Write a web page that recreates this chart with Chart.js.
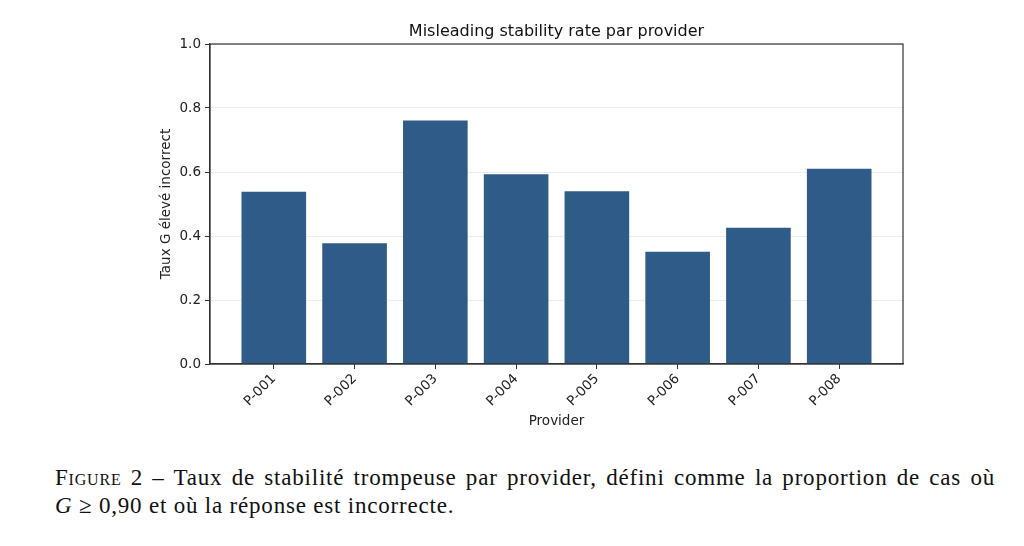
<!DOCTYPE html>
<html>
<head>
<meta charset="utf-8">
<script src="https://cdn.jsdelivr.net/npm/chart.js@4"></script>
<style>
  html, body { margin: 0; padding: 0; background: #fff; }
  #wrap { position: relative; width: 1024px; height: 546px; overflow: hidden; }
  #box { position: absolute; left: 0; top: 0; width: 1024px; height: 446px; }
  .cap { position: absolute; left: 55px; width: 940px; font-family: "Liberation Serif", "DejaVu Serif", serif;
         font-size: 23px; letter-spacing: 0.8px; color: #111; white-space: nowrap; }
  #cap1 { top: 465px; text-align: justify; text-align-last: justify; white-space: normal; }
  #cap2 { top: 493px; }
</style>
</head>
<body>
<div id="wrap">
  <div id="box"><canvas id="chart1"></canvas></div>
  <div class="cap" id="cap1"><span style="font-variant: small-caps">Figure</span> 2 – Taux de stabilité trompeuse par provider, défini comme la proportion de cas où</div>
  <div class="cap" id="cap2"><i>G</i> ≥ 0,90 et où la réponse est incorrecte.</div>
</div>
<script>
"use strict";

const providers = ['P-001', 'P-002', 'P-003', 'P-004', 'P-005', 'P-006', 'P-007', 'P-008'];
const misleadingRate = [0.538, 0.377, 0.761, 0.593, 0.540, 0.351, 0.426, 0.610];
const yTicks = [0, 0.2, 0.4, 0.6, 0.8, 1.0];

const frame = {
    id: 'frame',
    afterDatasetsDraw(chart) {
        const a = chart.chartArea;
        const ctx = chart.ctx;
        ctx.save();
        ctx.strokeStyle = '#333';
        ctx.lineWidth = 1.2;
        ctx.strokeRect(a.left, a.top, a.right - a.left, a.bottom - a.top);
        ctx.restore();
    }
};

Chart.defaults.font.family = '"DejaVu Sans", sans-serif';
Chart.defaults.color = '#222';

const data = {
    datasets: [{
        label: 'Misleading stability rate',
        backgroundColor: '#2f5b89',
        borderWidth: 0,
        barPercentage: 0.8,
        categoryPercentage: 1.0,
        data: misleadingRate.map((v, i) => ({x: i, y: v})),
    }]
};

const config = {
    type: 'bar',
    data: data,
    plugins: [frame],
    options: {
        responsive: true,
        maintainAspectRatio: false,
        animation: false,
        layout: { padding: { left: 150, right: 121, top: 22.5, bottom: 0 } },
        plugins: {
            legend: { display: false },
            tooltip: { enabled: false },
            title: {
                display: true,
                fullSize: false,
                text: 'Misleading stability rate par provider',
                font: { size: 16, weight: 'normal', lineHeight: 1.2 },
                color: '#111',
                padding: { top: 0, bottom: 2.3 },
            }
        },
        scales: {
            x: {
                type: 'linear',
                min: -0.79,
                max: 7.79,
                offset: false,
                afterBuildTicks: axis => { axis.ticks = providers.map((p, i) => ({value: i})); },
                afterFit: axis => { axis.height = 82; },
                ticks: {
                    autoSkip: false,
                    minRotation: 45,
                    maxRotation: 45,
                    padding: 2,
                    font: { size: 13.5 },
                    callback: v => providers[v],
                },
                grid: { offset: false, drawOnChartArea: false, tickLength: 5, tickColor: '#333' },
                border: { color: '#333', width: 1.2 },
                title: { display: true, text: 'Provider', font: { size: 13.5 }, padding: { top: 0, bottom: 16 } },
            },
            y: {
                min: 0,
                max: 1.0,
                afterBuildTicks: axis => { axis.ticks = yTicks.map(v => ({value: v})); },
                afterFit: axis => { axis.width = 60; },
                ticks: {
                    padding: 4,
                    font: { size: 13.5 },
                    callback: v => v.toFixed(1),
                },
                grid: { color: 'rgba(0,0,0,0.07)', tickLength: 5, tickColor: '#333' },
                border: { color: '#333', width: 1.2 },
                title: { display: true, text: 'Taux G élevé incorrect', font: { size: 13.5 }, padding: { top: 8, bottom: 0 } },
            }
        }
    }
};

const myChart = new Chart(document.getElementById('chart1'), config);
</script>
</body>
</html>
